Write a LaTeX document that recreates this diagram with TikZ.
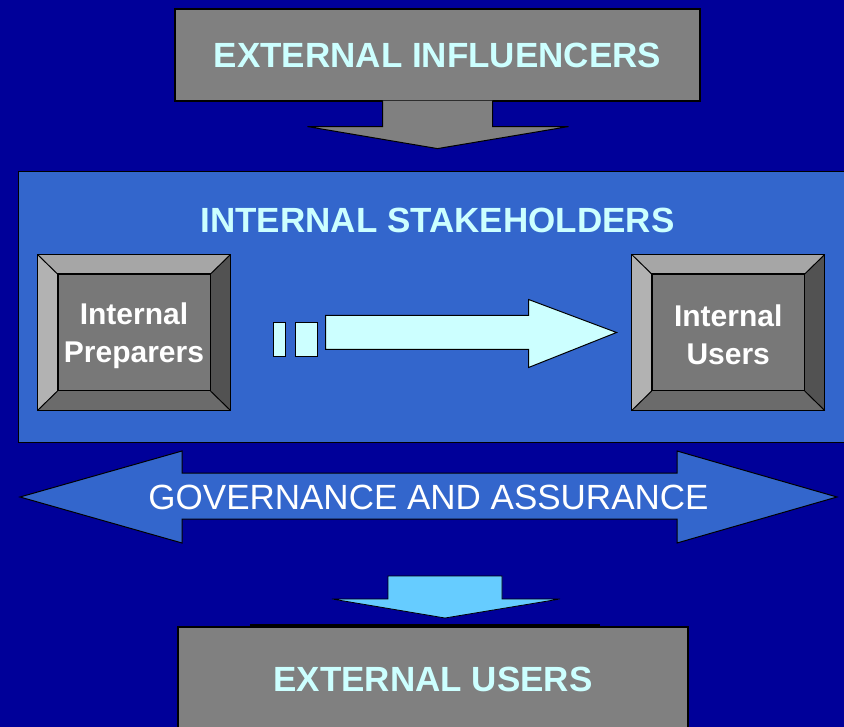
\documentclass[tikz,border=0pt]{standalone}
\usepackage{fontspec}
\setmainfont{Liberation Sans}
\usetikzlibrary{positioning}

\definecolor{navy}{RGB}{0,0,153}
\definecolor{stakeblue}{RGB}{51,102,204}
\definecolor{palecyan}{RGB}{204,255,255}
\definecolor{skyblue}{RGB}{102,204,255}
\definecolor{boxgrey}{RGB}{128,128,128}

\begin{document}
\begin{tikzpicture}[x=1pt, y=-1pt,
    bigtext/.style={font=\bfseries\fontsize{35}{42}\selectfont, text=palecyan},
    greybox/.style={draw=black, line width=1.2pt, fill=boxgrey, inner sep=0pt, bigtext},
    bevelout/.style={draw=black, line width=1.2pt, minimum width=192pt, minimum height=155pt, inner sep=0pt},
    bevelin/.style={draw=black, line width=1pt, fill={rgb,255:red,120;green,120;blue,120}, minimum width=152pt, minimum height=116pt, inner sep=0pt, align=center, text=white, font=\bfseries\fontsize{30}{38}\selectfont},
    blockarrow/.style={draw=black, line width=1pt, line join=miter}]

    \fill[navy] (0,0) rectangle (844,727);
    \useasboundingbox (0,0) rectangle (844,727);

    % outside, top
    \node[greybox, minimum width=525pt, minimum height=92pt] (infl) at (437.5,55) {EXTERNAL INFLUENCERS};
    \path[blockarrow, fill=boxgrey] ([xshift=-55pt]infl.south) ++(0,-1) -- ++(0,26) -- ++(-75,0) -- ++(130,22) -- ++(131,-22) -- ++(-76,0) -- ++(0,-26);

    % internal stakeholders
    \node[draw=black, line width=1pt, fill=stakeblue, minimum width=834pt, minimum height=270pt] (stake) at (435,307) {};
    \node[bigtext] (staketitle) at (437.5,220.5) {INTERNAL STAKEHOLDERS};

    \node[bevelout] (prep) at (134,332.5) {};
    \node[bevelout, right=401pt of prep] (users) {};
    \foreach \b in {prep, users} {
        \node[bevelin] (\b-in) at (\b.center) {};
        \fill[black!35] (\b.north west) -- (\b.north east) -- (\b-in.north east) -- (\b-in.north west) -- cycle;
        \fill[black!30] (\b.north west) -- (\b-in.north west) -- (\b-in.south west) -- (\b.south west) -- cycle;
        \fill[black!68] (\b.north east) -- (\b-in.north east) -- (\b-in.south east) -- (\b.south east) -- cycle;
        \fill[black!58] (\b.south west) -- (\b-in.south west) -- (\b-in.south east) -- (\b.south east) -- cycle;
        \draw[line width=1pt] (\b.north west) -- (\b-in.north west) (\b.north east) -- (\b-in.north east)
            (\b.south west) -- (\b-in.south west) (\b.south east) -- (\b-in.south east);
        \draw[line width=1.2pt] (\b.north west) rectangle (\b.south east);
        \draw[line width=1pt] (\b-in.north west) rectangle (\b-in.south east);
    }
    \node[bevelin, draw=none, fill=none, yshift=-3pt] (preptext) at (prep-in.center) {Internal\\Preparers};
    \node[bevelin, draw=none, fill=none, yshift=-2pt] (userstext) at (users-in.center) {Internal\\Users};

    % flow from preparers to users
    \coordinate (flowtip) at ([xshift=-15pt]users.west);
    \draw[blockarrow, fill=palecyan] (flowtip) -- ++(-88,-33) -- ++(0,16) -- ++(-203,0) -- ++(0,34) -- ++(203,0) -- ++(0,18) -- cycle;
    \draw[blockarrow, fill=palecyan] (273,323) rectangle (285,357);
    \draw[blockarrow, fill=palecyan] (295,323) rectangle (317,357);

    % governance and assurance
    \draw[blockarrow, fill=stakeblue] (20,497) -- (182,451) -- (182,473) -- (677,473) -- (677,451) -- (837,497)
        -- (677,543) -- (677,519) -- (182,519) -- (182,543) -- cycle;
    \node[text=white, font=\fontsize{35}{42}\selectfont] (gov) at (428.5,497) {GOVERNANCE AND ASSURANCE};

    % outside, bottom
    \node[greybox, minimum width=510pt, minimum height=105pt] (extusers) at (433,679.5) {EXTERNAL USERS};
    \draw[line width=3pt] ([xshift=-183pt, yshift=1pt]extusers.north) -- ([xshift=167pt, yshift=1pt]extusers.north);
    \coordinate (exttip) at (445,618);
    \draw[blockarrow, line width=0.8pt, fill=skyblue] (exttip) -- ++(-113,-19) -- ++(56,0) -- ++(0,-23) -- ++(114,0) -- ++(0,23) -- ++(58,0) -- cycle;
\end{tikzpicture}
\end{document}
